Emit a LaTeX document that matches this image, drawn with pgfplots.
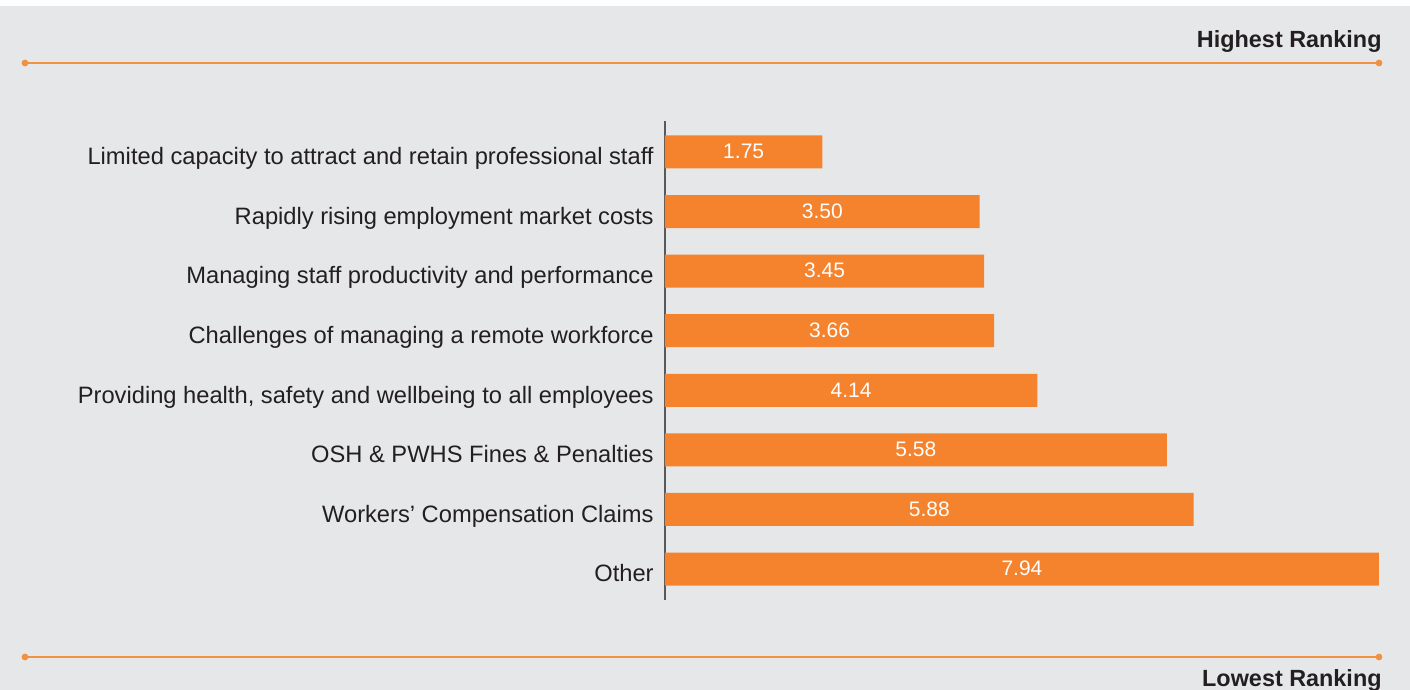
\documentclass[border=0pt]{standalone}
\usepackage{pgfplots}
\usepackage{pgfplotstable}
\pgfplotsset{compat=1.18}
\usepackage{fontspec}
\setmainfont{Liberation Sans}
\definecolor{bg}{HTML}{E6E7E8}
\definecolor{barc}{HTML}{F5822C}
\definecolor{linec}{HTML}{F2913F}
\definecolor{txt}{HTML}{231F20}
\definecolor{axc}{HTML}{58595B}
\pgfplotstableread{
y x lab
0 1.75 1.75
1 3.50 3.50
2 3.55 3.45
3 3.66 3.66
4 4.14 4.14
5 5.58 5.58
6 5.88 5.88
7 7.94 7.94
}\bars
\begin{document}
\begin{tikzpicture}
\useasboundingbox (0pt,0pt) rectangle (705pt,345pt);
\fill[white] (0pt,0pt) rectangle (705pt,345pt);
\fill[bg] (0pt,0pt) rectangle (705pt,342pt);
\draw[linec, line width=1pt] (12.5pt,313.5pt) -- (689.5pt,313.5pt);
\fill[linec] (12.5pt,313.5pt) circle (1.7pt);
\fill[linec] (689.5pt,313.5pt) circle (1.7pt);
\draw[linec, line width=1pt] (12.5pt,16.5pt) -- (689.5pt,16.5pt);
\fill[linec] (12.5pt,16.5pt) circle (1.7pt);
\fill[linec] (689.5pt,16.5pt) circle (1.7pt);
\node[anchor=base east, inner sep=0pt, font=\bfseries\fontsize{11.7}{14}\selectfont, text=txt] at (691pt,321pt) {Highest Ranking};
\node[anchor=base east, inner sep=0pt, font=\bfseries\fontsize{11.7}{14}\selectfont, text=txt] at (691pt,1.5pt) {Lowest Ranking};
\begin{axis}[
  at={(332.5pt,45pt)}, anchor=south west,
  scale only axis, width=357pt, height=239.5pt,
  xmin=0, xmax=7.94, ymin=-0.52, ymax=7.52,
  y dir=reverse,
  axis x line=none,
  axis y line*=left,
  y axis line style={-, color=axc, line width=0.6pt},
  ytick={0,1,2,3,4,5,6,7},
  yticklabels={Limited capacity to attract and retain professional staff,
    Rapidly rising employment market costs,
    Managing staff productivity and performance,
    Challenges of managing a remote workforce,
    {Providing health, safety and wellbeing to all employees},
    OSH \& PWHS Fines \& Penalties,
    Workers’ Compensation Claims,
    Other},
  major tick length=0pt,
  yticklabel style={font=\fontsize{11.85}{14}\selectfont, text=txt, inner sep=0pt, anchor=base east, xshift=-5.5pt, yshift=-6.4pt},
  clip=false,
]
\addplot[xbar, bar width=16.5pt, fill=barc, draw=none] table[x=x, y=y] {\bars};
\addplot[draw=none, mark=none, nodes near coords, point meta=explicit symbolic,
  nodes near coords style={anchor=center, text=white, font=\fontsize{10.5}{12}\selectfont, inner sep=0pt, yshift=0.2pt}]
  table[x expr=\thisrow{x}/2, y=y, meta=lab] {\bars};
\end{axis}
\end{tikzpicture}
\end{document}
